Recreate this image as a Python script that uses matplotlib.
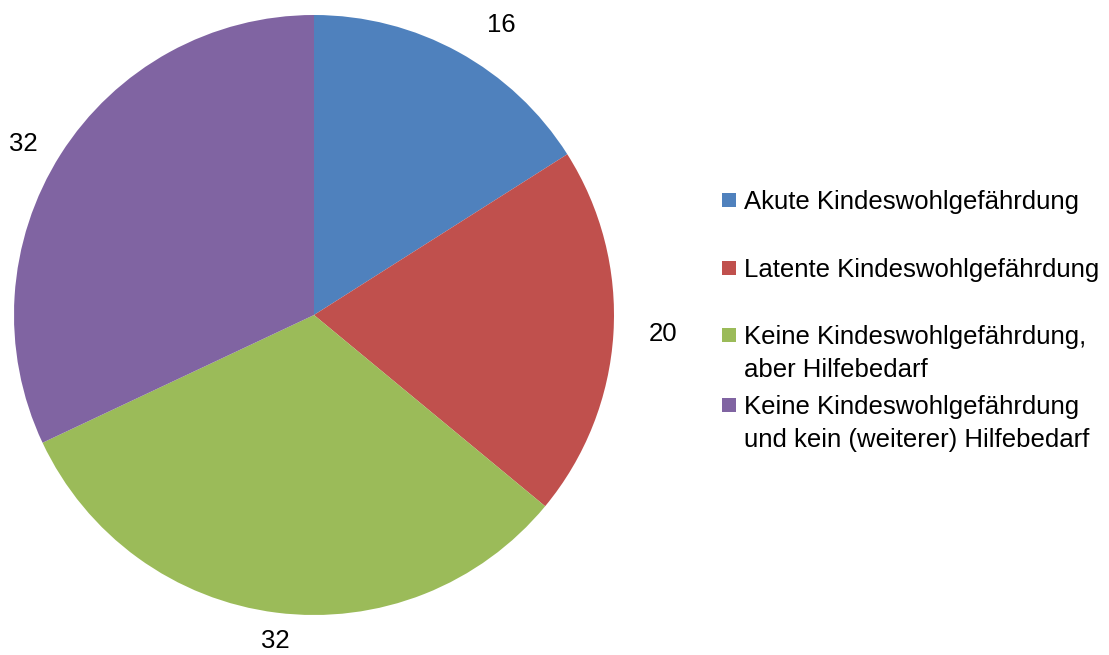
import matplotlib
matplotlib.use('Agg')
import numpy as np
from matplotlib import pyplot as plt
from matplotlib.patches import Rectangle

plt.rcParams['font.family'] = ['Liberation Sans', 'DejaVu Sans']

categories = ['Akute Kindeswohlgefährdung',
              'Latente Kindeswohlgefährdung',
              'Keine Kindeswohlgefährdung,\naber Hilfebedarf',
              'Keine Kindeswohlgefährdung\nund kein (weiterer) Hilfebedarf']
values = [16, 20, 32, 32]
colors = ['#4F81BD', '#C0504D', '#9BBB59', '#8064A2']

W, H = 1109, 655
fig = plt.figure(figsize=(W / 100, H / 100), dpi=100)

# pie axes: centre (314, 315) px, radius 300 px
ax = fig.add_axes([14 / W, (H - 615) / H, 600 / W, 600 / H])
total = sum(values)
wedges, texts, autotexts = ax.pie(values, colors=colors, startangle=90, counterclock=False,
                                  radius=1, autopct=lambda p: f'{p * total / 100:.0f}',
                                  pctdistance=1.13, textprops={'fontsize': 18.5})

# excel puts its labels at slightly different distances
label_dist = [1.15, 1.165, 1.095, 1.125]
label_shift = [-4, 0.5, 0.5, 2]   # degrees
for wedge, txt, d, s in zip(wedges, autotexts, label_dist, label_shift):
    a = np.deg2rad((wedge.theta1 + wedge.theta2) / 2 + s)
    txt.set_position((d * np.cos(a), d * np.sin(a)))

ax.set_xlim(-1, 1)
ax.set_ylim(-1, 1)
ax.set_aspect('equal')
ax.axis('off')

# legend drawn by hand so the square sits next to the first line
legend_y = [200, 268, 335, 405]   # first-line centres, px from top
for wedge, label, y in zip(wedges, categories, legend_y):
    fig.patches.append(Rectangle((722 / W, (H - y - 7) / H), 14 / W, 14 / H,
                                 transform=fig.transFigure, facecolor=wedge.get_facecolor(),
                                 edgecolor='none'))
    fig.text(744 / W, (H - y + 10) / H, label, fontsize=18.5, va='top', ha='left',
             linespacing=1.45)

plt.savefig('out.png', dpi=100)
